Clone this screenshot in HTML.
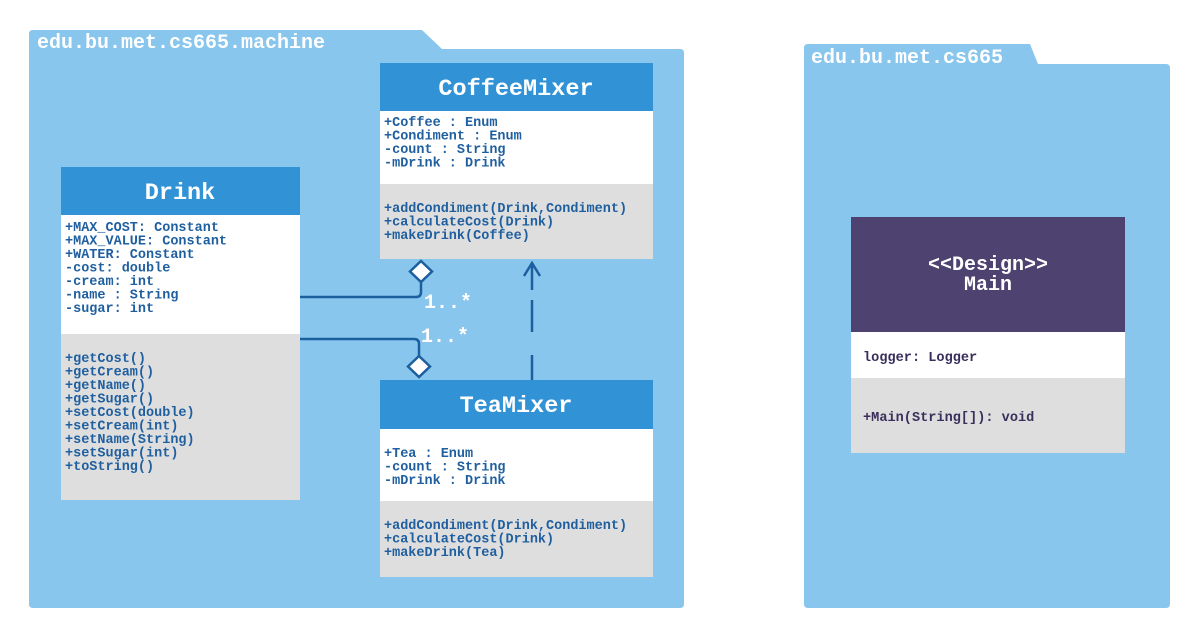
<!DOCTYPE html>
<html><head><meta charset="utf-8"><style>
body{margin:0;background:#fff}
svg text{font-family:"Liberation Mono",monospace;font-weight:bold}
.a{fill:#1f5f9f;font-size:13.5px}
.h{fill:#fff;font-size:23.5px}
</style></head><body>
<svg width="1200" height="638" xmlns="http://www.w3.org/2000/svg">
<path d="M33,30 H422 L442,49 H680 Q684,49 684,53 V604 Q684,608 680,608 H33 Q29,608 29,604 V34 Q29,30 33,30Z" fill="#89c6ee"/>
<text x="37" y="48" fill="#fff" style="font-size:20px">edu.bu.met.cs665.machine</text>
<path d="M808,44 H1030 L1038,64 H1166 Q1170,64 1170,68 V604 Q1170,608 1166,608 H808 Q804,608 804,604 V48 Q804,44 808,44Z" fill="#89c6ee"/>
<text x="811" y="63" fill="#fff" style="font-size:20px">edu.bu.met.cs665</text>

<g stroke="#1c5f9e" stroke-width="2.5" fill="none">
<path d="M300,297 H416 Q421,297 421,292 V282"/>
<path d="M300,339 H414 Q419,339 419,344 V356"/>
<path d="M532,380 V355 M532,332 V300 M532,290 V263"/>
<path d="M524,276 L532,263 L540,276"/>
</g>
<path d="M421,261 L432,271.5 L421,282 L410,271.5Z" fill="#fff" stroke="#1c5f9e" stroke-width="2.5"/>
<path d="M419,356 L430,366.5 L419,377 L408,366.5Z" fill="#fff" stroke="#1c5f9e" stroke-width="2.5"/>
<text x="424" y="308" fill="#fff" style="font-size:20px">1..*</text>
<text x="421" y="342" fill="#fff" style="font-size:20px">1..*</text>

<rect x="61" y="167" width="239" height="48" fill="#3193d6"/>
<rect x="61" y="215" width="239" height="119" fill="#fff"/>
<rect x="61" y="334" width="239" height="166" fill="#dedede"/>
<text x="180" y="199" text-anchor="middle" class="h">Drink</text>
<g class="a"><text x="65" y="231">+MAX_COST: Constant</text><text x="65" y="244.5">+MAX_VALUE: Constant</text><text x="65" y="258">+WATER: Constant</text><text x="65" y="271.5">-cost: double</text><text x="65" y="285">-cream: int</text><text x="65" y="298.5">-name : String</text><text x="65" y="312">-sugar: int</text>
<text x="65" y="362">+getCost()</text><text x="65" y="375.5">+getCream()</text><text x="65" y="389">+getName()</text><text x="65" y="402.5">+getSugar()</text><text x="65" y="416">+setCost(double)</text><text x="65" y="429.5">+setCream(int)</text><text x="65" y="443">+setName(String)</text><text x="65" y="456.5">+setSugar(int)</text><text x="65" y="470">+toString()</text></g>

<rect x="380" y="63" width="273" height="48" fill="#3193d6"/>
<rect x="380" y="111" width="273" height="73" fill="#fff"/>
<rect x="380" y="184" width="273" height="75" fill="#dedede"/>
<text x="516" y="95" text-anchor="middle" class="h">CoffeeMixer</text>
<g class="a"><text x="384" y="126">+Coffee : Enum</text><text x="384" y="139.5">+Condiment : Enum</text><text x="384" y="153">-count : String</text><text x="384" y="166.5">-mDrink : Drink</text>
<text x="384" y="212">+addCondiment(Drink,Condiment)</text><text x="384" y="225.5">+calculateCost(Drink)</text><text x="384" y="239">+makeDrink(Coffee)</text></g>

<rect x="380" y="380" width="273" height="49" fill="#3193d6"/>
<rect x="380" y="429" width="273" height="72" fill="#fff"/>
<rect x="380" y="501" width="273" height="76" fill="#dedede"/>
<text x="516" y="412" text-anchor="middle" class="h">TeaMixer</text>
<g class="a"><text x="384" y="457">+Tea : Enum</text><text x="384" y="470.5">-count : String</text><text x="384" y="484">-mDrink : Drink</text>
<text x="384" y="529">+addCondiment(Drink,Condiment)</text><text x="384" y="542.5">+calculateCost(Drink)</text><text x="384" y="556">+makeDrink(Tea)</text></g>

<rect x="851" y="217" width="274" height="115" fill="#4d4270"/>
<rect x="851" y="332" width="274" height="46" fill="#fff"/>
<rect x="851" y="378" width="274" height="75" fill="#dedede"/>
<text x="988" y="270" text-anchor="middle" fill="#fff" style="font-size:20px">&lt;&lt;Design&gt;&gt;</text>
<text x="988" y="290" text-anchor="middle" fill="#fff" style="font-size:20px">Main</text>
<text x="863" y="361" fill="#3a2f5c" style="font-size:13.6px">logger: Logger</text>
<text x="863" y="421" fill="#3a2f5c" style="font-size:13.6px">+Main(String[]): void</text>
</svg>
</body></html>
